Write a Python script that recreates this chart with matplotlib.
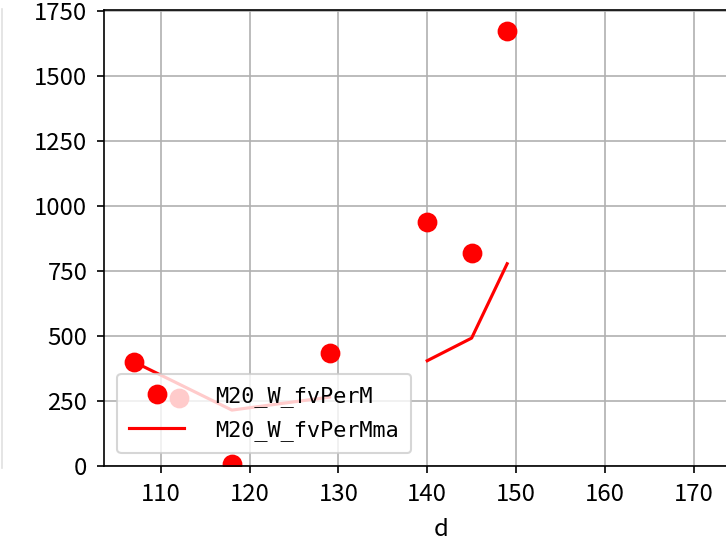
import matplotlib
matplotlib.use("Agg")

import matplotlib.pyplot as plt
from matplotlib.lines import Line2D
import numpy as np

# data
days = [107, 112, 118, 129, 140, 145, 149]
fv_per_m = [400, 262, 8, 433, 938, 819, 1673]

ma_days = [107, 118, 129, 135, 140, 145, 149]
fv_per_m_ma = [400, 215, 265, np.nan, 405, 492, 778]

plt.rcParams['font.family'] = ['Noto Sans CJK JP', 'DejaVu Sans']
plt.rcParams['font.size'] = 11.5

fig = plt.figure(figsize=(726 / 150, 540 / 150), dpi=150)
# axes runs past the right edge of the picture (cropped figure)
ax = fig.add_axes([104 / 726, 74 / 540, 674 / 726, 456 / 540])

ax.plot(days, fv_per_m, 'o', color='red', markersize=8.5, label='M20_W_fvPerM')
ax.plot(ma_days, fv_per_m_ma, '-', color='red', linewidth=1.5, label='M20_W_fvPerMma')

ax.set_xlim(103.6, 103.6 + 674 / 8.88)
ax.set_ylim(0, 1754)
ax.set_xticks([110, 120, 130, 140, 150, 160, 170])
ax.set_yticks([0, 250, 500, 750, 1000, 1250, 1500, 1750])
ax.tick_params(axis='both', pad=4.5)
ax.grid(True, color='#b0b0b0', linewidth=0.8)
ax.set_xlabel('d', labelpad=6)

ax.legend(loc='lower left', prop={'family': 'DejaVu Sans Mono', 'size': 10.5},
          borderaxespad=0.6, borderpad=0.55, labelspacing=0.6,
          handlelength=2.5, handletextpad=1.45)

# faint edge of a neighbouring panel at the far left
fig.add_artist(Line2D([1.5 / 726, 1.5 / 726], [1 - 9 / 540, 1 - 468 / 540],
                      transform=fig.transFigure, color='#e0e0e0', linewidth=0.8))

plt.savefig('out.png', dpi=150)
plt.close(fig)
